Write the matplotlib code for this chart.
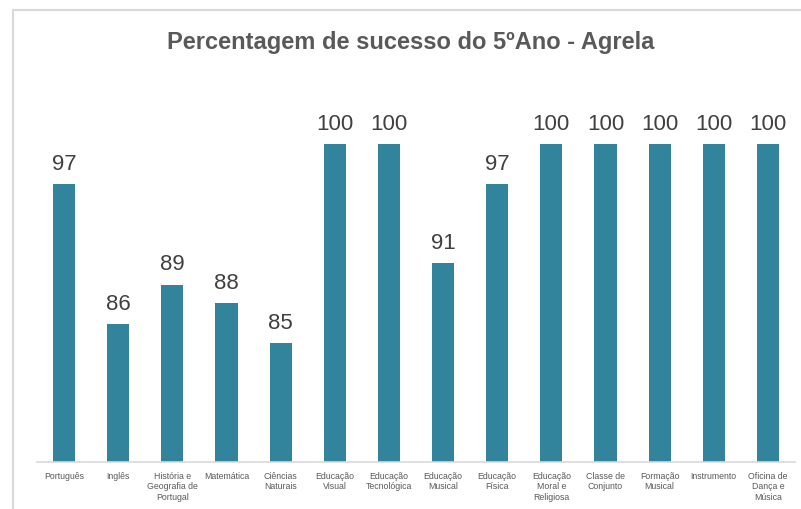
import matplotlib.pyplot as plt
from matplotlib.patches import Rectangle

plt.rcParams['font.family'] = ['Liberation Sans', 'DejaVu Sans']

# Dados
disciplinas = ["Português", "Inglês", "História e\nGeografia de\nPortugal", "Matemática",
               "Ciências\nNaturais", "Educação\nVisual", "Educação\nTecnológica",
               "Educação\nMusical", "Educação\nFísica", "Educação\nMoral e\nReligiosa",
               "Classe de\nConjunto", "Formação\nMusical", "Instrumento",
               "Oficina de\nDança e\nMúsica"]
sucesso = [97, 86.4, 89.4, 88, 85, 100, 100, 91, 97, 100, 100, 100, 100, 100]

fig = plt.figure(figsize=(8.01, 5.09), dpi=100)

# moldura do gráfico
fig.patches.append(Rectangle((13 / 801, -0.01), 1.0, 1 - 10 / 509 + 0.01,
                             transform=fig.transFigure, fill=False,
                             edgecolor='#D9D9D9', linewidth=1.5))

ax = fig.add_axes([37 / 801, 47 / 509, 758 / 801, (462 - 117.6) / 509])
x = range(len(disciplinas))
bars = ax.bar(x, sucesso, width=0.41, color='#31849B', zorder=2)

for b, v in zip(bars, sucesso):
    ax.text(b.get_x() + b.get_width() / 2, v + 0.7, f"{v:.0f}",
            ha='center', va='bottom', fontsize=16, color='#404040', clip_on=False)

ax.set_ylim(76, 102)
ax.set_xlim(-0.5, len(disciplinas) - 0.5)
ax.set_yticks([])
ax.set_xticks(list(x))
ax.set_xticklabels(disciplinas, fontsize=6.3, color='#595959', linespacing=1.25)
ax.tick_params(axis='x', length=0, pad=7)
for s in ['top', 'right', 'left']:
    ax.spines[s].set_visible(False)
ax.spines['bottom'].set_color('#D9D9D9')
ax.spines['bottom'].set_linewidth(1.2)

fig.text(411 / 801, 1 - 42 / 509, "Percentagem de sucesso do 5ºAno - Agrela",
         ha='center', va='center', fontsize=17, fontweight='bold', color='#595959')

fig.savefig("out.png", dpi=100)
